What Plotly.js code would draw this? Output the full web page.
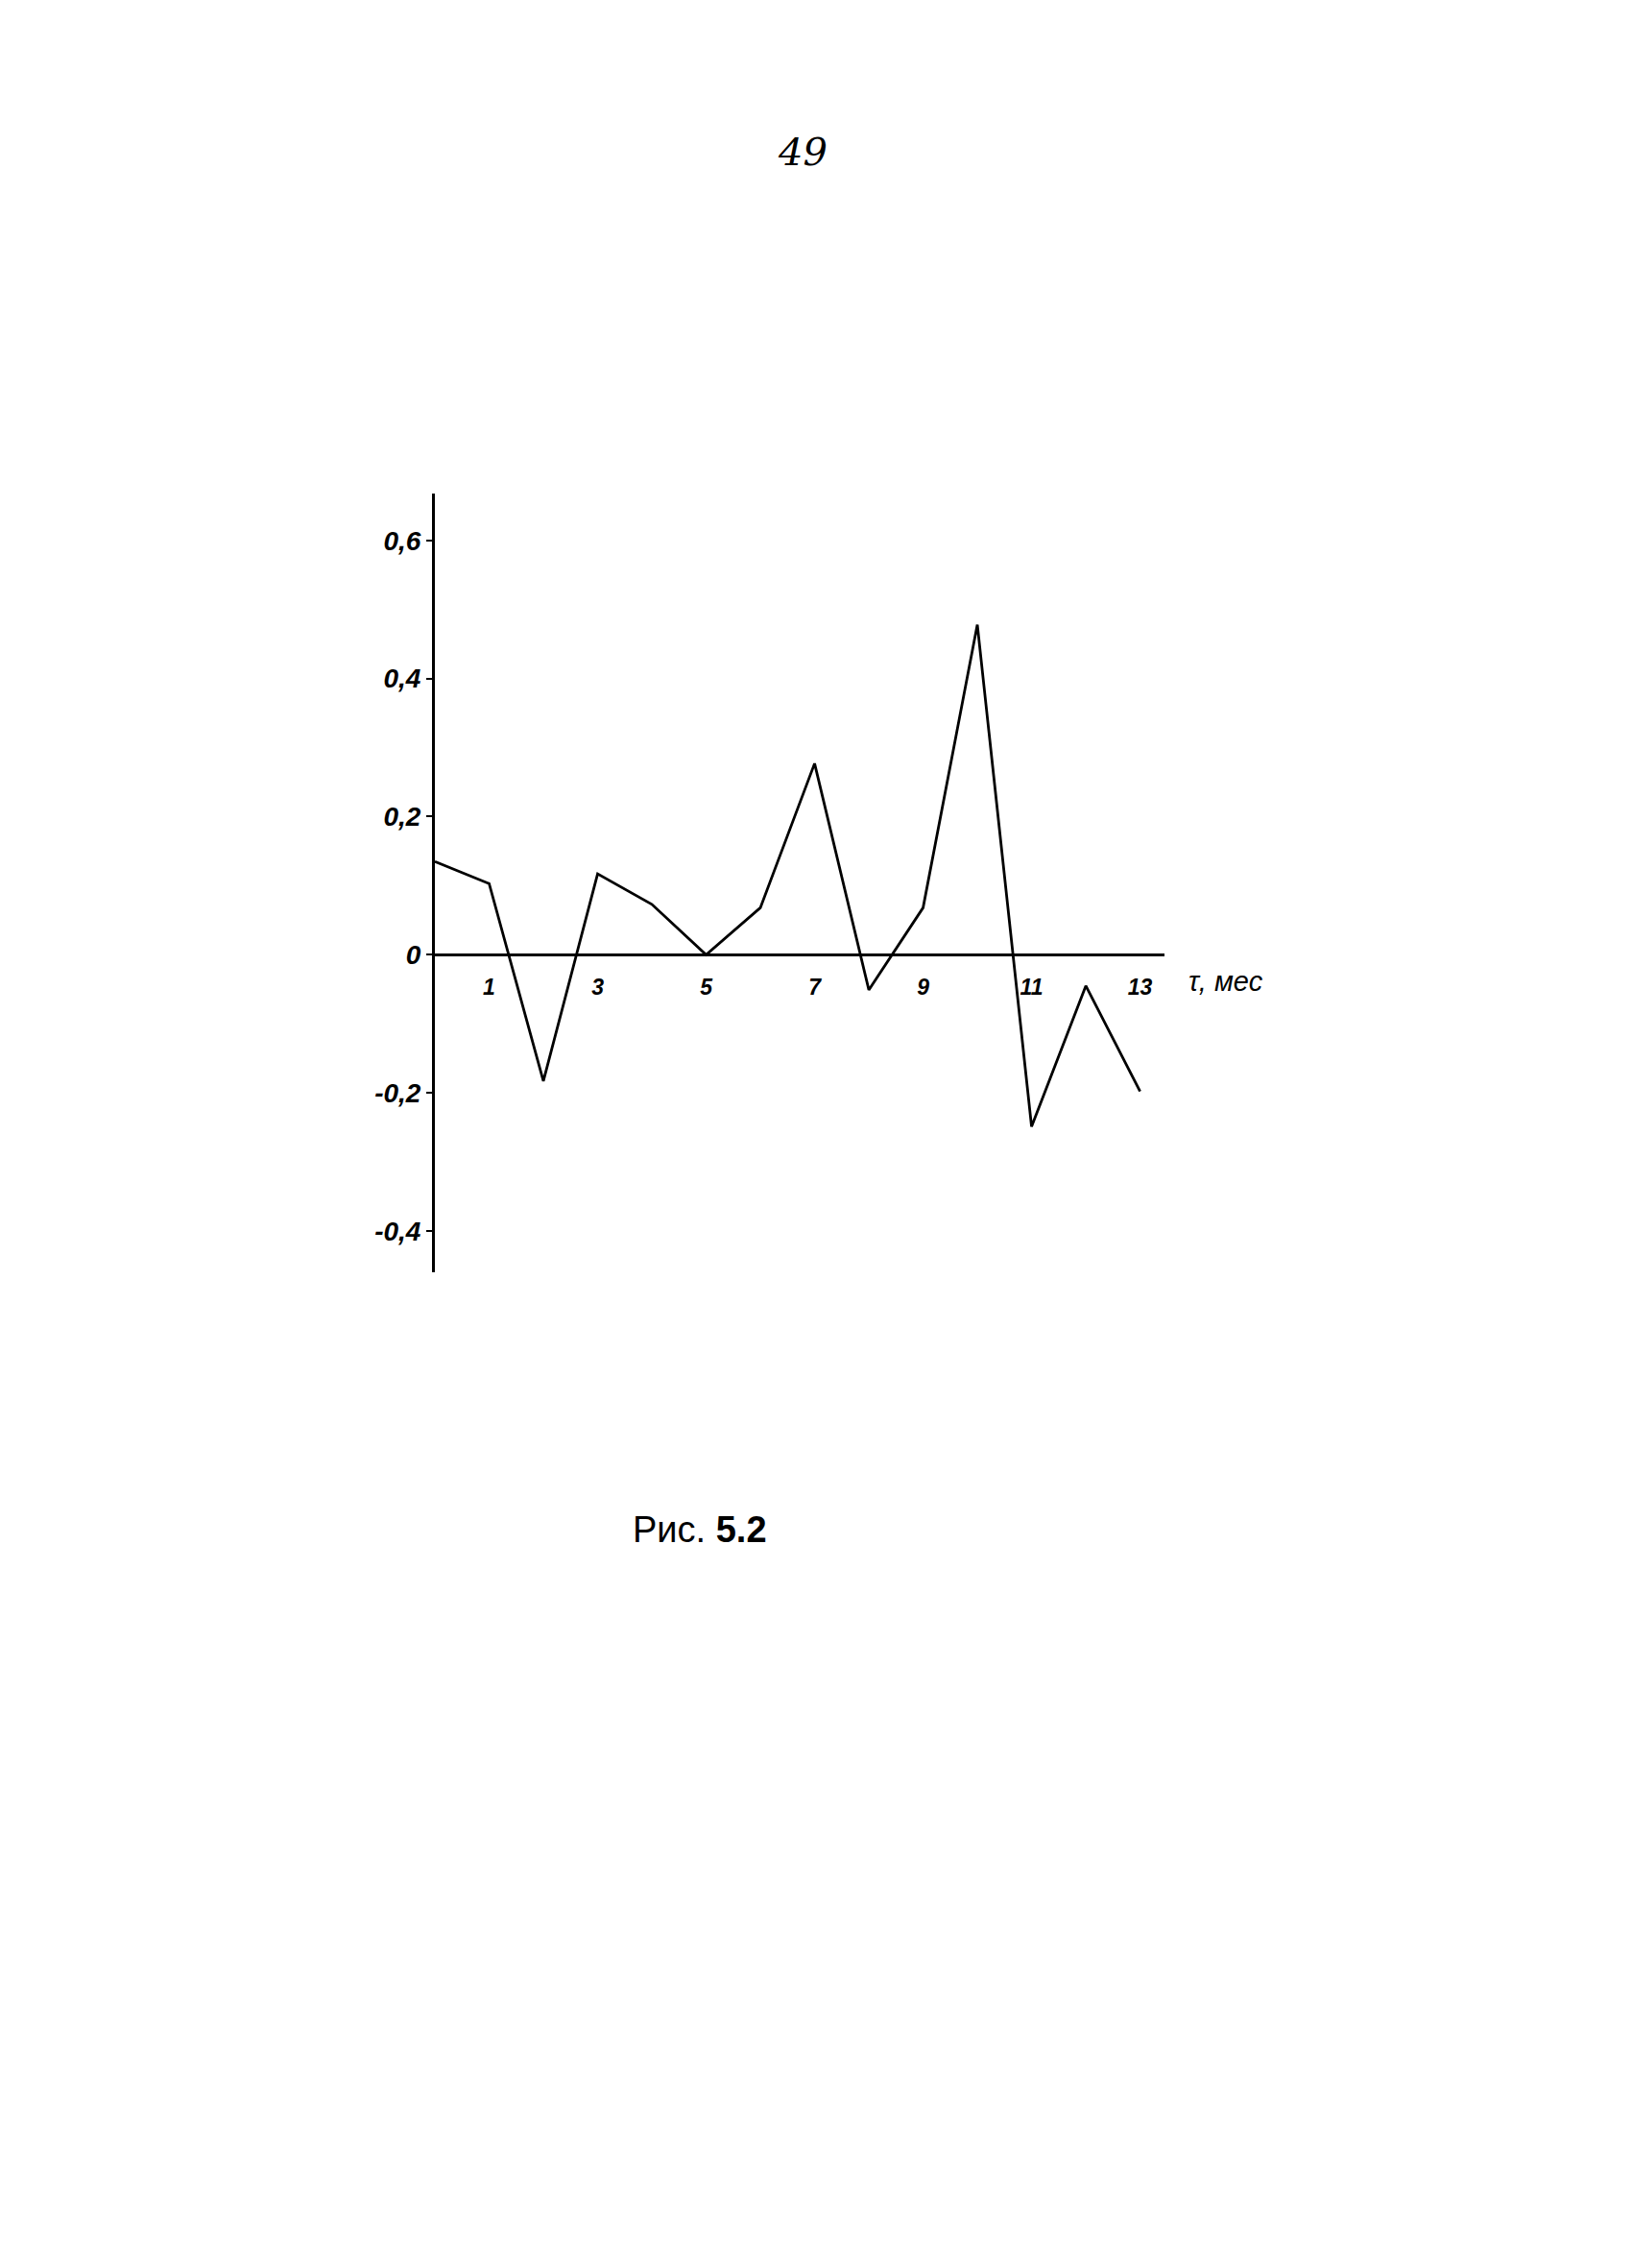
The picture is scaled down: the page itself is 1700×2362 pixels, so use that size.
<!DOCTYPE html>
<html>
<head>
<meta charset="utf-8">
<script src="https://cdn.plot.ly/plotly-3.0.1.min.js"></script>
<style>html,body{margin:0;padding:0;background:#fff;}</style>
</head>
<body>
<div id="chart" style="width:1700px;height:2362px;"></div>
<script>
// Lag (months) and values
const lagMonths = [0, 1, 2, 3, 4, 5, 6, 7, 8, 9, 10, 11, 12, 13];
const values = [0.135, 0.103, -0.183, 0.117, 0.073, 0.0, 0.068, 0.277, -0.051, 0.068, 0.478, -0.249, -0.045, -0.198];
const yTickVals = [0.6, 0.4, 0.2, 0, -0.2, -0.4];
const yTickText = ["0,6", "0,4", "0,2", "0", "-0,2", "-0,4"];
const xTickVals = [1, 3, 5, 7, 9, 11, 13];
const xTickText = ["1", "3", "5", "7", "9", "11", "13"];

const xRange = [0, 13.45];
const yRange = [-0.46, 0.668];
const zeroPos = (0 - yRange[0]) / (yRange[1] - yRange[0]);

const trace = {
  x: lagMonths, y: values, type: 'scatter', mode: 'lines',
  line: {color: '#000', width: 2.8}, hoverinfo: 'skip', showlegend: false
};

const layout = {
  width: 1700, height: 2362, autosize: false,
  paper_bgcolor: '#fff', plot_bgcolor: 'rgba(0,0,0,0)',
  margin: {l: 453, r: 487, t: 514, b: 1037, pad: 0},
  showlegend: false,
  font: {family: 'Liberation Sans, Arial, sans-serif', color: '#000'},
  xaxis: {
    range: xRange, anchor: 'free', position: zeroPos,
    showline: true, linecolor: '#000', linewidth: 3,
    showgrid: false, zeroline: false,
    tickmode: 'array', tickvals: xTickVals, ticktext: xTickText,
    ticks: 'outside', ticklen: 12, tickcolor: 'rgba(0,0,0,0)',
    tickfont: {size: 23, style: 'italic', weight: 'bold', color: '#000'}
  },
  yaxis: {
    range: yRange, anchor: 'x',
    showline: true, linecolor: '#000', linewidth: 3,
    showgrid: false, zeroline: false,
    tickmode: 'array', tickvals: yTickVals, ticktext: yTickText,
    ticks: 'outside', ticklen: 6, tickwidth: 2, tickcolor: '#000',
    tickfont: {size: 28, style: 'italic', weight: 'bold', color: '#000'}
  },
  annotations: [
    {text: 'τ, мес', xref: 'paper', yref: 'y', x: 1.03, y: 0, xanchor: 'left', yanchor: 'top',
     yshift: -10, showarrow: false, font: {size: 29, style: 'italic', color: '#000'}},
    {text: '49', xref: 'paper', yref: 'paper', x: (836 - 453) / 760, y: (1325 - 158) / 811,
     xanchor: 'center', yanchor: 'middle', showarrow: false,
     font: {size: 40, style: 'italic', color: '#000', family: 'DejaVu Serif, serif'}},
    {text: 'Рис. <b>5.2</b>', xref: 'paper', yref: 'paper', x: (729 - 453) / 760, y: (1325 - 1593) / 811,
     xanchor: 'center', yanchor: 'middle', showarrow: false,
     font: {size: 38, color: '#000'}}
  ]
};

Plotly.newPlot('chart', [trace], layout, {staticPlot: true, displayModeBar: false});
</script>
</body>
</html>
